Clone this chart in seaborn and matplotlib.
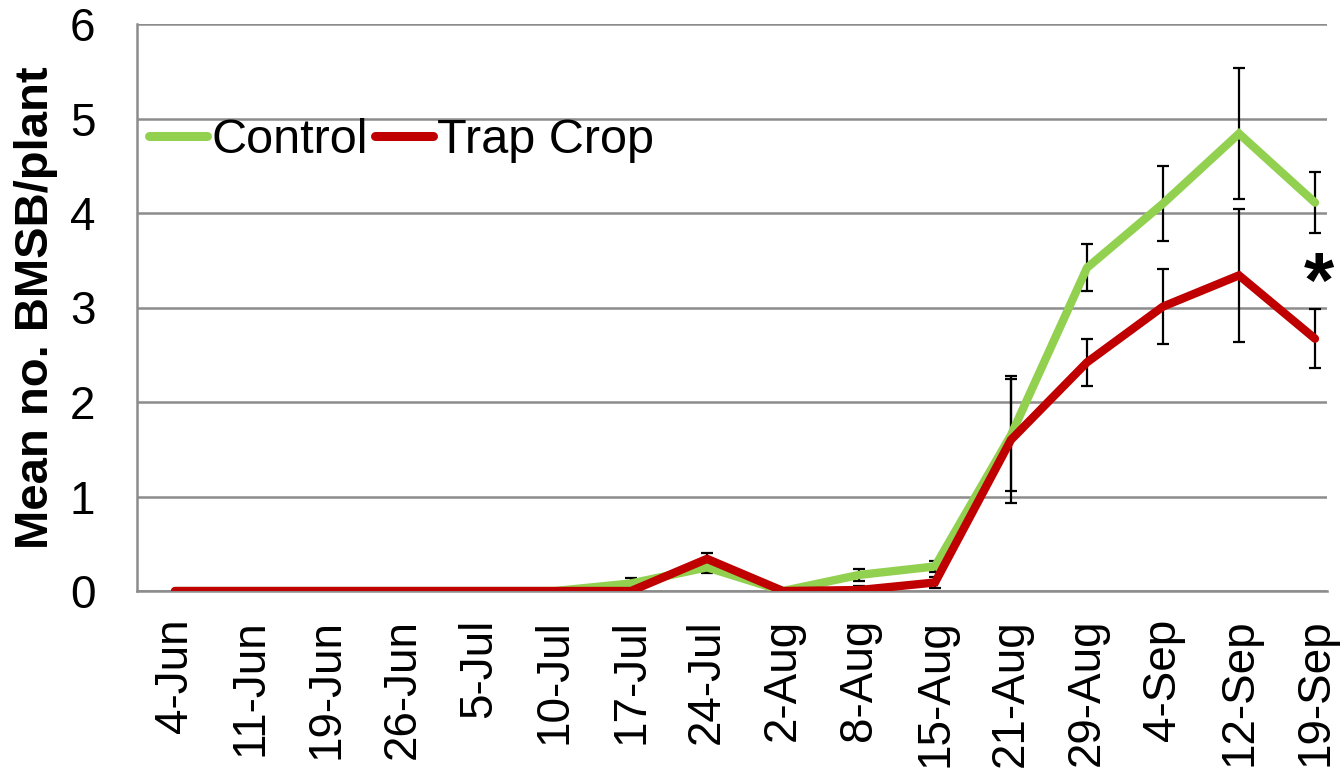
import numpy as np
import pandas as pd
import matplotlib
matplotlib.use("Agg")
import matplotlib.pyplot as plt
import seaborn as sns
from matplotlib.lines import Line2D

dates = ["4-Jun", "11-Jun", "19-Jun", "26-Jun", "5-Jul", "10-Jul", "17-Jul", "24-Jul",
         "2-Aug", "8-Aug", "15-Aug", "21-Aug", "29-Aug", "4-Sep", "12-Sep", "19-Sep"]
control_mean = [0, 0, 0, 0, 0, 0, 0.08, 0.25, 0, 0.17, 0.26, 1.65, 3.42, 4.10, 4.84, 4.11]
control_se = [0, 0, 0, 0, 0, 0, 0.06, 0.06, 0, 0.06, 0.06, 0.59, 0.25, 0.40, 0.69, 0.32]
trap_mean = [0, 0, 0, 0, 0, 0, 0, 0.34, 0, 0.01, 0.09, 1.60, 2.42, 3.01, 3.34, 2.67]
trap_se = [0, 0, 0, 0, 0, 0, 0, 0.06, 0, 0.04, 0.06, 0.67, 0.25, 0.40, 0.70, 0.31]
series_names = ["Control", "Trap Crop"]
colors = {"Control": "#92D050", "Trap Crop": "#C00000"}

sns.set_theme(style="white", rc={"text.color": "black", "axes.labelcolor": "black",
                                 "xtick.color": "black", "ytick.color": "black"})
plt.rcParams['font.family'] = ['Liberation Sans', 'DejaVu Sans']

n = len(dates)
df = pd.DataFrame({
    "idx": list(range(n)) * 2,
    "mean": control_mean + trap_mean,
    "se": control_se + trap_se,
    "treatment": [series_names[0]] * n + [series_names[1]] * n,
})

fig = plt.figure(figsize=(13.42, 7.77), dpi=100)
ax = fig.add_axes([137 / 1342, 1 - 591 / 777, (1327 - 137) / 1342, (591 - 24) / 777])

# error bars (drawn beneath lines)
for name in series_names:
    sub = df[df["treatment"] == name]
    m = sub["se"] > 0
    ax.errorbar(sub["idx"][m], sub["mean"][m], yerr=sub["se"][m], fmt="none",
                ecolor="black", elinewidth=1.6, capsize=4.5, capthick=1.6, zorder=2)

sns.lineplot(data=df, x="idx", y="mean", hue="treatment", palette=colors,
             linewidth=6, ax=ax, zorder=3, legend=False,
             solid_joinstyle="miter", solid_capstyle="round")

ax.set_xlim(-0.5, 15.5 - 26 / 76)
ax.set_ylim(0, 6)
ax.set_yticks(range(0, 7))
ax.set_xticks(range(n))
ax.set_xticklabels(dates, rotation=90, fontsize=33)
ax.tick_params(axis="x", which="major", length=0, pad=20, labelcolor="black")
ax.tick_params(axis="y", labelsize=33, length=10, width=1.5, color="#888888",
               direction="out", pad=20, labelcolor="black")
ax.set_xticks(np.arange(0.5, n - 0.5, 1), minor=True)
ax.tick_params(axis="x", which="minor", length=10, width=1.5, color="#888888", direction="out")
ax.grid(axis="y", color="#8c8c8c", linewidth=1.8)
ax.set_axisbelow(True)
for s in ["top", "right"]:
    ax.spines[s].set_visible(False)
for s in ["left", "bottom"]:
    ax.spines[s].set_color("#8c8c8c")
    ax.spines[s].set_linewidth(1.8)
ax.set_xlabel("")
ax.set_ylabel("Mean no. BMSB/plant", fontsize=34, fontweight="bold", color="black")
ax.yaxis.set_label_coords(-0.066, 0.50)

handles = [Line2D([0], [0], color=colors[nm], lw=6.5, solid_capstyle="round") for nm in series_names]
leg = ax.legend(handles, series_names, loc="center left", bbox_to_anchor=(0.01, 0.795),
                ncol=2, frameon=False, fontsize=35, handlelength=1.2, handletextpad=0.08,
                columnspacing=0.15, borderpad=0, borderaxespad=0)

ax.text(15.05, 3.22, "*", fontsize=56, fontweight="bold", ha="center", va="center", color="black")

fig.savefig("out.png", dpi=100)
